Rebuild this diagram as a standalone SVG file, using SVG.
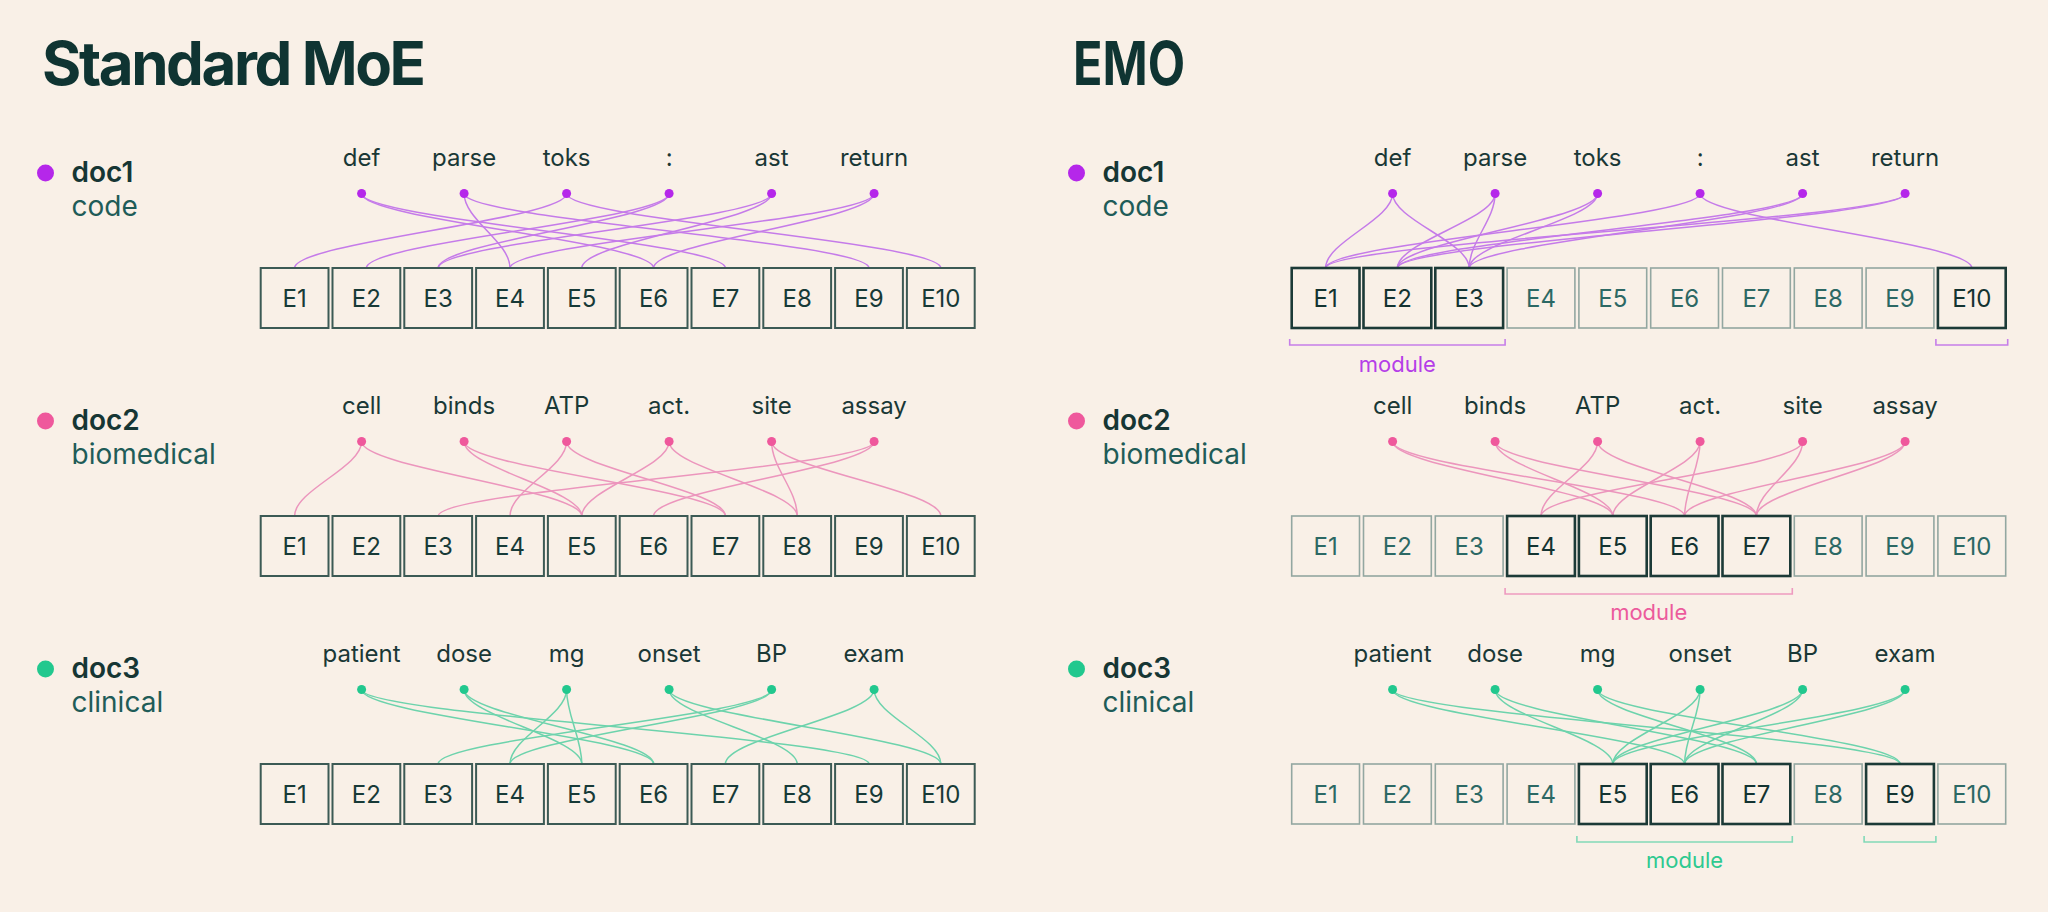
<svg xmlns="http://www.w3.org/2000/svg" width="2048" height="912" viewBox="0 0 2048 912">
<style>
text{font-family:Inter,"Noto Sans","Liberation Sans",sans-serif}
.title{font-size:60px;font-weight:700;fill:#0f3432}
.dn{font-size:28px;font-weight:600;fill:#163634}
.ds{font-size:28px;font-weight:400;fill:#1f5c58}
.tok{font-size:24px;fill:#1a3836;text-anchor:middle}
.et{font-size:24px;text-anchor:middle}
rect.b{fill:none;width:67.8px;height:60px}
.std rect{stroke:#3c5a55;stroke-width:2}
.std text{fill:#173a37}
.lt rect{stroke:#93a7a1;stroke-width:1.6}
.lt text{fill:#2c6864}
.dk rect{stroke:#1c3a37;stroke-width:2.6}
.dk text{fill:#133331}
.mod{font-size:22px;text-anchor:middle}
.cp path{fill:none;stroke:#c57be9;stroke-width:1.5}
.ck path{fill:none;stroke:#ec96bd;stroke-width:1.5}
.cg path{fill:none;stroke:#6dd3ac;stroke-width:1.5}
.br{fill:none;stroke-width:1.6}
</style>
<rect x="0" y="0" width="2048" height="912" fill="#f9f0e7"/>

<g id="title-left"><text class="title" x="42" y="85" textLength="384" lengthAdjust="spacing">Standard MoE</text></g>
<g id="title-right"><text class="title" x="1073" y="85" textLength="112" lengthAdjust="spacingAndGlyphs">EMO</text></g>

<!-- doc labels -->
<g id="L-doc1"><circle cx="45.5" cy="173" r="8.5" fill="#b527ea"/><text class="dn" x="71.5" y="182">doc1</text><text class="ds" x="71.5" y="216">code</text></g>
<g id="L-doc2"><circle cx="45.5" cy="421" r="8.5" fill="#ef589c"/><text class="dn" x="71.5" y="430">doc2</text><text class="ds" x="71.5" y="464">biomedical</text></g>
<g id="L-doc3"><circle cx="45.5" cy="669" r="8.5" fill="#22c88e"/><text class="dn" x="71.5" y="678">doc3</text><text class="ds" x="71.5" y="712">clinical</text></g>
<g id="R-doc1"><circle cx="1076.5" cy="173" r="8.5" fill="#b527ea"/><text class="dn" x="1102.5" y="182">doc1</text><text class="ds" x="1102.5" y="216">code</text></g>
<g id="R-doc2"><circle cx="1076.5" cy="421" r="8.5" fill="#ef589c"/><text class="dn" x="1102.5" y="430">doc2</text><text class="ds" x="1102.5" y="464">biomedical</text></g>
<g id="R-doc3"><circle cx="1076.5" cy="669" r="8.5" fill="#22c88e"/><text class="dn" x="1102.5" y="678">doc3</text><text class="ds" x="1102.5" y="712">clinical</text></g>

<!-- connectors -->
<g id="connectors">
<g class="cp">
<path d="M361.6 193.5C361.6 219.5 653.6 242 653.6 268"/>
<path d="M361.6 193.5C361.6 219.5 725.4 242 725.4 268"/>
<path d="M464.1 193.5C464.1 219.5 510 242 510 268"/>
<path d="M464.1 193.5C464.1 219.5 869 242 869 268"/>
<path d="M566.6 193.5C566.6 219.5 294.6 242 294.6 268"/>
<path d="M566.6 193.5C566.6 219.5 940.8 242 940.8 268"/>
<path d="M669.1 193.5C669.1 219.5 366.4 242 366.4 268"/>
<path d="M669.1 193.5C669.1 219.5 438.2 242 438.2 268"/>
<path d="M771.6 193.5C771.6 219.5 438.2 242 438.2 268"/>
<path d="M771.6 193.5C771.6 219.5 581.8 242 581.8 268"/>
<path d="M874.1 193.5C874.1 219.5 510 242 510 268"/>
<path d="M874.1 193.5C874.1 219.5 653.6 242 653.6 268"/>
<path d="M1392.6 193.5C1392.6 219.5 1325.6 242 1325.6 268"/>
<path d="M1392.6 193.5C1392.6 219.5 1469.2 242 1469.2 268"/>
<path d="M1495.1 193.5C1495.1 219.5 1397.4 242 1397.4 268"/>
<path d="M1495.1 193.5C1495.1 219.5 1469.2 242 1469.2 268"/>
<path d="M1597.6 193.5C1597.6 219.5 1397.4 242 1397.4 268"/>
<path d="M1597.6 193.5C1597.6 219.5 1469.2 242 1469.2 268"/>
<path d="M1700.1 193.5C1700.1 219.5 1325.6 242 1325.6 268"/>
<path d="M1700.1 193.5C1700.1 219.5 1971.8 242 1971.8 268"/>
<path d="M1802.6 193.5C1802.6 219.5 1397.4 242 1397.4 268"/>
<path d="M1802.6 193.5C1802.6 219.5 1469.2 242 1469.2 268"/>
<path d="M1905.1 193.5C1905.1 219.5 1325.6 242 1325.6 268"/>
<path d="M1905.1 193.5C1905.1 219.5 1397.4 242 1397.4 268"/>
</g>
<g class="ck">
<path d="M361.6 441.5C361.6 467.5 294.6 490 294.6 516"/>
<path d="M361.6 441.5C361.6 467.5 581.8 490 581.8 516"/>
<path d="M464.1 441.5C464.1 467.5 581.8 490 581.8 516"/>
<path d="M464.1 441.5C464.1 467.5 725.4 490 725.4 516"/>
<path d="M566.6 441.5C566.6 467.5 510 490 510 516"/>
<path d="M566.6 441.5C566.6 467.5 725.4 490 725.4 516"/>
<path d="M669.1 441.5C669.1 467.5 581.8 490 581.8 516"/>
<path d="M669.1 441.5C669.1 467.5 797.2 490 797.2 516"/>
<path d="M771.6 441.5C771.6 467.5 797.2 490 797.2 516"/>
<path d="M771.6 441.5C771.6 467.5 940.8 490 940.8 516"/>
<path d="M874.1 441.5C874.1 467.5 438.2 490 438.2 516"/>
<path d="M874.1 441.5C874.1 467.5 653.6 490 653.6 516"/>
<path d="M1392.6 441.5C1392.6 467.5 1612.8 490 1612.8 516"/>
<path d="M1392.6 441.5C1392.6 467.5 1684.6 490 1684.6 516"/>
<path d="M1495.1 441.5C1495.1 467.5 1612.8 490 1612.8 516"/>
<path d="M1495.1 441.5C1495.1 467.5 1756.4 490 1756.4 516"/>
<path d="M1597.6 441.5C1597.6 467.5 1541 490 1541 516"/>
<path d="M1597.6 441.5C1597.6 467.5 1756.4 490 1756.4 516"/>
<path d="M1700.1 441.5C1700.1 467.5 1612.8 490 1612.8 516"/>
<path d="M1700.1 441.5C1700.1 467.5 1684.6 490 1684.6 516"/>
<path d="M1802.6 441.5C1802.6 467.5 1541 490 1541 516"/>
<path d="M1802.6 441.5C1802.6 467.5 1756.4 490 1756.4 516"/>
<path d="M1905.1 441.5C1905.1 467.5 1684.6 490 1684.6 516"/>
<path d="M1905.1 441.5C1905.1 467.5 1756.4 490 1756.4 516"/>
</g>
<g class="cg">
<path d="M361.6 689.5C361.6 715.5 653.6 738 653.6 764"/>
<path d="M361.6 689.5C361.6 715.5 869 738 869 764"/>
<path d="M464.1 689.5C464.1 715.5 581.8 738 581.8 764"/>
<path d="M464.1 689.5C464.1 715.5 653.6 738 653.6 764"/>
<path d="M566.6 689.5C566.6 715.5 510 738 510 764"/>
<path d="M566.6 689.5C566.6 715.5 581.8 738 581.8 764"/>
<path d="M669.1 689.5C669.1 715.5 797.2 738 797.2 764"/>
<path d="M669.1 689.5C669.1 715.5 940.8 738 940.8 764"/>
<path d="M771.6 689.5C771.6 715.5 438.2 738 438.2 764"/>
<path d="M771.6 689.5C771.6 715.5 510 738 510 764"/>
<path d="M874.1 689.5C874.1 715.5 725.4 738 725.4 764"/>
<path d="M874.1 689.5C874.1 715.5 940.8 738 940.8 764"/>
<path d="M1392.6 689.5C1392.6 715.5 1684.6 738 1684.6 764"/>
<path d="M1392.6 689.5C1392.6 715.5 1900 738 1900 764"/>
<path d="M1495.1 689.5C1495.1 715.5 1612.8 738 1612.8 764"/>
<path d="M1495.1 689.5C1495.1 715.5 1756.4 738 1756.4 764"/>
<path d="M1597.6 689.5C1597.6 715.5 1756.4 738 1756.4 764"/>
<path d="M1597.6 689.5C1597.6 715.5 1900 738 1900 764"/>
<path d="M1700.1 689.5C1700.1 715.5 1612.8 738 1612.8 764"/>
<path d="M1700.1 689.5C1700.1 715.5 1684.6 738 1684.6 764"/>
<path d="M1802.6 689.5C1802.6 715.5 1612.8 738 1612.8 764"/>
<path d="M1802.6 689.5C1802.6 715.5 1684.6 738 1684.6 764"/>
<path d="M1905.1 689.5C1905.1 715.5 1612.8 738 1612.8 764"/>
<path d="M1905.1 689.5C1905.1 715.5 1684.6 738 1684.6 764"/>
</g>
</g>

<!-- tokens -->
<g id="tokens-L1" fill="#b527ea">
<g id="L1-def"><text class="tok" x="361.6" y="166">def</text><circle cx="361.6" cy="193.5" r="4.5"/></g>
<g id="L1-parse"><text class="tok" x="464.1" y="166">parse</text><circle cx="464.1" cy="193.5" r="4.5"/></g>
<g id="L1-toks"><text class="tok" x="566.6" y="166">toks</text><circle cx="566.6" cy="193.5" r="4.5"/></g>
<g id="L1-colon"><text class="tok" x="669.1" y="166">:</text><circle cx="669.1" cy="193.5" r="4.5"/></g>
<g id="L1-ast"><text class="tok" x="771.6" y="166">ast</text><circle cx="771.6" cy="193.5" r="4.5"/></g>
<g id="L1-return"><text class="tok" x="874.1" y="166">return</text><circle cx="874.1" cy="193.5" r="4.5"/></g>
</g>
<g id="tokens-R1" fill="#b527ea">
<g id="R1-def"><text class="tok" x="1392.6" y="166">def</text><circle cx="1392.6" cy="193.5" r="4.5"/></g>
<g id="R1-parse"><text class="tok" x="1495.1" y="166">parse</text><circle cx="1495.1" cy="193.5" r="4.5"/></g>
<g id="R1-toks"><text class="tok" x="1597.6" y="166">toks</text><circle cx="1597.6" cy="193.5" r="4.5"/></g>
<g id="R1-colon"><text class="tok" x="1700.1" y="166">:</text><circle cx="1700.1" cy="193.5" r="4.5"/></g>
<g id="R1-ast"><text class="tok" x="1802.6" y="166">ast</text><circle cx="1802.6" cy="193.5" r="4.5"/></g>
<g id="R1-return"><text class="tok" x="1905.1" y="166">return</text><circle cx="1905.1" cy="193.5" r="4.5"/></g>
</g>
<g id="tokens-L2" fill="#ef589c">
<g id="L2-cell"><text class="tok" x="361.6" y="414">cell</text><circle cx="361.6" cy="441.5" r="4.5"/></g>
<g id="L2-binds"><text class="tok" x="464.1" y="414">binds</text><circle cx="464.1" cy="441.5" r="4.5"/></g>
<g id="L2-ATP"><text class="tok" x="566.6" y="414">ATP</text><circle cx="566.6" cy="441.5" r="4.5"/></g>
<g id="L2-act"><text class="tok" x="669.1" y="414">act.</text><circle cx="669.1" cy="441.5" r="4.5"/></g>
<g id="L2-site"><text class="tok" x="771.6" y="414">site</text><circle cx="771.6" cy="441.5" r="4.5"/></g>
<g id="L2-assay"><text class="tok" x="874.1" y="414">assay</text><circle cx="874.1" cy="441.5" r="4.5"/></g>
</g>
<g id="tokens-R2" fill="#ef589c">
<g id="R2-cell"><text class="tok" x="1392.6" y="414">cell</text><circle cx="1392.6" cy="441.5" r="4.5"/></g>
<g id="R2-binds"><text class="tok" x="1495.1" y="414">binds</text><circle cx="1495.1" cy="441.5" r="4.5"/></g>
<g id="R2-ATP"><text class="tok" x="1597.6" y="414">ATP</text><circle cx="1597.6" cy="441.5" r="4.5"/></g>
<g id="R2-act"><text class="tok" x="1700.1" y="414">act.</text><circle cx="1700.1" cy="441.5" r="4.5"/></g>
<g id="R2-site"><text class="tok" x="1802.6" y="414">site</text><circle cx="1802.6" cy="441.5" r="4.5"/></g>
<g id="R2-assay"><text class="tok" x="1905.1" y="414">assay</text><circle cx="1905.1" cy="441.5" r="4.5"/></g>
</g>
<g id="tokens-L3" fill="#22c88e">
<g id="L3-patient"><text class="tok" x="361.6" y="662">patient</text><circle cx="361.6" cy="689.5" r="4.5"/></g>
<g id="L3-dose"><text class="tok" x="464.1" y="662">dose</text><circle cx="464.1" cy="689.5" r="4.5"/></g>
<g id="L3-mg"><text class="tok" x="566.6" y="662">mg</text><circle cx="566.6" cy="689.5" r="4.5"/></g>
<g id="L3-onset"><text class="tok" x="669.1" y="662">onset</text><circle cx="669.1" cy="689.5" r="4.5"/></g>
<g id="L3-BP"><text class="tok" x="771.6" y="662">BP</text><circle cx="771.6" cy="689.5" r="4.5"/></g>
<g id="L3-exam"><text class="tok" x="874.1" y="662">exam</text><circle cx="874.1" cy="689.5" r="4.5"/></g>
</g>
<g id="tokens-R3" fill="#22c88e">
<g id="R3-patient"><text class="tok" x="1392.6" y="662">patient</text><circle cx="1392.6" cy="689.5" r="4.5"/></g>
<g id="R3-dose"><text class="tok" x="1495.1" y="662">dose</text><circle cx="1495.1" cy="689.5" r="4.5"/></g>
<g id="R3-mg"><text class="tok" x="1597.6" y="662">mg</text><circle cx="1597.6" cy="689.5" r="4.5"/></g>
<g id="R3-onset"><text class="tok" x="1700.1" y="662">onset</text><circle cx="1700.1" cy="689.5" r="4.5"/></g>
<g id="R3-BP"><text class="tok" x="1802.6" y="662">BP</text><circle cx="1802.6" cy="689.5" r="4.5"/></g>
<g id="R3-exam"><text class="tok" x="1905.1" y="662">exam</text><circle cx="1905.1" cy="689.5" r="4.5"/></g>
</g>

<!-- experts: left -->
<g id="experts-L1" class="std">
<g id="L1-E1"><rect class="b" x="260.7" y="268" width="67.8" height="60"/><text class="et" x="294.6" y="306.5">E1</text></g>
<g id="L1-E2"><rect class="b" x="332.5" y="268" width="67.8" height="60"/><text class="et" x="366.4" y="306.5">E2</text></g>
<g id="L1-E3"><rect class="b" x="404.3" y="268" width="67.8" height="60"/><text class="et" x="438.2" y="306.5">E3</text></g>
<g id="L1-E4"><rect class="b" x="476.1" y="268" width="67.8" height="60"/><text class="et" x="510" y="306.5">E4</text></g>
<g id="L1-E5"><rect class="b" x="547.9" y="268" width="67.8" height="60"/><text class="et" x="581.8" y="306.5">E5</text></g>
<g id="L1-E6"><rect class="b" x="619.7" y="268" width="67.8" height="60"/><text class="et" x="653.6" y="306.5">E6</text></g>
<g id="L1-E7"><rect class="b" x="691.5" y="268" width="67.8" height="60"/><text class="et" x="725.4" y="306.5">E7</text></g>
<g id="L1-E8"><rect class="b" x="763.3" y="268" width="67.8" height="60"/><text class="et" x="797.2" y="306.5">E8</text></g>
<g id="L1-E9"><rect class="b" x="835.1" y="268" width="67.8" height="60"/><text class="et" x="869" y="306.5">E9</text></g>
<g id="L1-E10"><rect class="b" x="906.9" y="268" width="67.8" height="60"/><text class="et" x="940.8" y="306.5">E10</text></g>
</g>
<g id="experts-L2" class="std">
<g id="L2-E1"><rect class="b" x="260.7" y="516" width="67.8" height="60"/><text class="et" x="294.6" y="554.5">E1</text></g>
<g id="L2-E2"><rect class="b" x="332.5" y="516" width="67.8" height="60"/><text class="et" x="366.4" y="554.5">E2</text></g>
<g id="L2-E3"><rect class="b" x="404.3" y="516" width="67.8" height="60"/><text class="et" x="438.2" y="554.5">E3</text></g>
<g id="L2-E4"><rect class="b" x="476.1" y="516" width="67.8" height="60"/><text class="et" x="510" y="554.5">E4</text></g>
<g id="L2-E5"><rect class="b" x="547.9" y="516" width="67.8" height="60"/><text class="et" x="581.8" y="554.5">E5</text></g>
<g id="L2-E6"><rect class="b" x="619.7" y="516" width="67.8" height="60"/><text class="et" x="653.6" y="554.5">E6</text></g>
<g id="L2-E7"><rect class="b" x="691.5" y="516" width="67.8" height="60"/><text class="et" x="725.4" y="554.5">E7</text></g>
<g id="L2-E8"><rect class="b" x="763.3" y="516" width="67.8" height="60"/><text class="et" x="797.2" y="554.5">E8</text></g>
<g id="L2-E9"><rect class="b" x="835.1" y="516" width="67.8" height="60"/><text class="et" x="869" y="554.5">E9</text></g>
<g id="L2-E10"><rect class="b" x="906.9" y="516" width="67.8" height="60"/><text class="et" x="940.8" y="554.5">E10</text></g>
</g>
<g id="experts-L3" class="std">
<g id="L3-E1"><rect class="b" x="260.7" y="764" width="67.8" height="60"/><text class="et" x="294.6" y="802.5">E1</text></g>
<g id="L3-E2"><rect class="b" x="332.5" y="764" width="67.8" height="60"/><text class="et" x="366.4" y="802.5">E2</text></g>
<g id="L3-E3"><rect class="b" x="404.3" y="764" width="67.8" height="60"/><text class="et" x="438.2" y="802.5">E3</text></g>
<g id="L3-E4"><rect class="b" x="476.1" y="764" width="67.8" height="60"/><text class="et" x="510" y="802.5">E4</text></g>
<g id="L3-E5"><rect class="b" x="547.9" y="764" width="67.8" height="60"/><text class="et" x="581.8" y="802.5">E5</text></g>
<g id="L3-E6"><rect class="b" x="619.7" y="764" width="67.8" height="60"/><text class="et" x="653.6" y="802.5">E6</text></g>
<g id="L3-E7"><rect class="b" x="691.5" y="764" width="67.8" height="60"/><text class="et" x="725.4" y="802.5">E7</text></g>
<g id="L3-E8"><rect class="b" x="763.3" y="764" width="67.8" height="60"/><text class="et" x="797.2" y="802.5">E8</text></g>
<g id="L3-E9"><rect class="b" x="835.1" y="764" width="67.8" height="60"/><text class="et" x="869" y="802.5">E9</text></g>
<g id="L3-E10"><rect class="b" x="906.9" y="764" width="67.8" height="60"/><text class="et" x="940.8" y="802.5">E10</text></g>
</g>

<!-- experts: right -->
<g id="experts-R1">
<g id="R1-E1" class="dk"><rect class="b" x="1291.7" y="268" width="67.8" height="60"/><text class="et" x="1325.6" y="306.5">E1</text></g>
<g id="R1-E2" class="dk"><rect class="b" x="1363.5" y="268" width="67.8" height="60"/><text class="et" x="1397.4" y="306.5">E2</text></g>
<g id="R1-E3" class="dk"><rect class="b" x="1435.3" y="268" width="67.8" height="60"/><text class="et" x="1469.2" y="306.5">E3</text></g>
<g id="R1-E4" class="lt"><rect class="b" x="1507.1" y="268" width="67.8" height="60"/><text class="et" x="1541" y="306.5">E4</text></g>
<g id="R1-E5" class="lt"><rect class="b" x="1578.9" y="268" width="67.8" height="60"/><text class="et" x="1612.8" y="306.5">E5</text></g>
<g id="R1-E6" class="lt"><rect class="b" x="1650.7" y="268" width="67.8" height="60"/><text class="et" x="1684.6" y="306.5">E6</text></g>
<g id="R1-E7" class="lt"><rect class="b" x="1722.5" y="268" width="67.8" height="60"/><text class="et" x="1756.4" y="306.5">E7</text></g>
<g id="R1-E8" class="lt"><rect class="b" x="1794.3" y="268" width="67.8" height="60"/><text class="et" x="1828.2" y="306.5">E8</text></g>
<g id="R1-E9" class="lt"><rect class="b" x="1866.1" y="268" width="67.8" height="60"/><text class="et" x="1900" y="306.5">E9</text></g>
<g id="R1-E10" class="dk"><rect class="b" x="1937.9" y="268" width="67.8" height="60"/><text class="et" x="1971.8" y="306.5">E10</text></g>
</g>
<g id="experts-R2">
<g id="R2-E1" class="lt"><rect class="b" x="1291.7" y="516" width="67.8" height="60"/><text class="et" x="1325.6" y="554.5">E1</text></g>
<g id="R2-E2" class="lt"><rect class="b" x="1363.5" y="516" width="67.8" height="60"/><text class="et" x="1397.4" y="554.5">E2</text></g>
<g id="R2-E3" class="lt"><rect class="b" x="1435.3" y="516" width="67.8" height="60"/><text class="et" x="1469.2" y="554.5">E3</text></g>
<g id="R2-E4" class="dk"><rect class="b" x="1507.1" y="516" width="67.8" height="60"/><text class="et" x="1541" y="554.5">E4</text></g>
<g id="R2-E5" class="dk"><rect class="b" x="1578.9" y="516" width="67.8" height="60"/><text class="et" x="1612.8" y="554.5">E5</text></g>
<g id="R2-E6" class="dk"><rect class="b" x="1650.7" y="516" width="67.8" height="60"/><text class="et" x="1684.6" y="554.5">E6</text></g>
<g id="R2-E7" class="dk"><rect class="b" x="1722.5" y="516" width="67.8" height="60"/><text class="et" x="1756.4" y="554.5">E7</text></g>
<g id="R2-E8" class="lt"><rect class="b" x="1794.3" y="516" width="67.8" height="60"/><text class="et" x="1828.2" y="554.5">E8</text></g>
<g id="R2-E9" class="lt"><rect class="b" x="1866.1" y="516" width="67.8" height="60"/><text class="et" x="1900" y="554.5">E9</text></g>
<g id="R2-E10" class="lt"><rect class="b" x="1937.9" y="516" width="67.8" height="60"/><text class="et" x="1971.8" y="554.5">E10</text></g>
</g>
<g id="experts-R3">
<g id="R3-E1" class="lt"><rect class="b" x="1291.7" y="764" width="67.8" height="60"/><text class="et" x="1325.6" y="802.5">E1</text></g>
<g id="R3-E2" class="lt"><rect class="b" x="1363.5" y="764" width="67.8" height="60"/><text class="et" x="1397.4" y="802.5">E2</text></g>
<g id="R3-E3" class="lt"><rect class="b" x="1435.3" y="764" width="67.8" height="60"/><text class="et" x="1469.2" y="802.5">E3</text></g>
<g id="R3-E4" class="lt"><rect class="b" x="1507.1" y="764" width="67.8" height="60"/><text class="et" x="1541" y="802.5">E4</text></g>
<g id="R3-E5" class="dk"><rect class="b" x="1578.9" y="764" width="67.8" height="60"/><text class="et" x="1612.8" y="802.5">E5</text></g>
<g id="R3-E6" class="dk"><rect class="b" x="1650.7" y="764" width="67.8" height="60"/><text class="et" x="1684.6" y="802.5">E6</text></g>
<g id="R3-E7" class="dk"><rect class="b" x="1722.5" y="764" width="67.8" height="60"/><text class="et" x="1756.4" y="802.5">E7</text></g>
<g id="R3-E8" class="lt"><rect class="b" x="1794.3" y="764" width="67.8" height="60"/><text class="et" x="1828.2" y="802.5">E8</text></g>
<g id="R3-E9" class="dk"><rect class="b" x="1866.1" y="764" width="67.8" height="60"/><text class="et" x="1900" y="802.5">E9</text></g>
<g id="R3-E10" class="lt"><rect class="b" x="1937.9" y="764" width="67.8" height="60"/><text class="et" x="1971.8" y="802.5">E10</text></g>
</g>

<!-- module brackets -->
<g id="module-1">
<path class="br" stroke="#c67ee9" d="M1289.7 339V345H1505.1V339M1935.9 339V345H2007.7V339"/>
<text class="mod" x="1397.4" y="372" fill="#b53ee8">module</text>
</g>
<g id="module-2">
<path class="br" stroke="#ee9ac0" d="M1505.1 588V594H1792.3V588"/>
<text class="mod" x="1648.7" y="620" fill="#ec5a9c">module</text>
</g>
<g id="module-3">
<path class="br" stroke="#82d9b8" d="M1576.9 836V842H1792.3V836M1864.1 836V842H1935.9V836"/>
<text class="mod" x="1684.6" y="868" fill="#2ec990">module</text>
</g>
</svg>
